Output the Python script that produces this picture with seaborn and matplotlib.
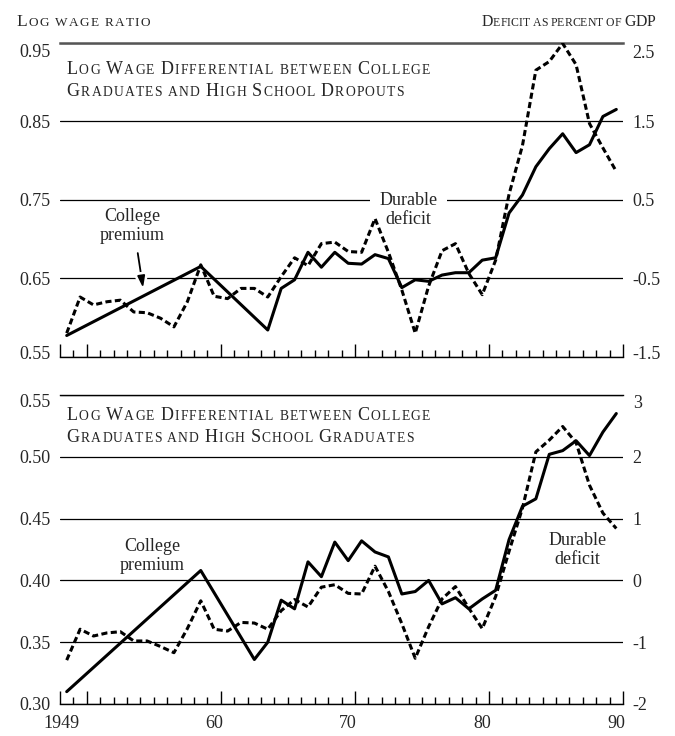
import re
import numpy as np
import pandas as pd
import matplotlib
matplotlib.use("Agg")
import matplotlib.pyplot as plt
import matplotlib.patheffects as pe
from matplotlib import transforms
import seaborn as sns

# ---------------- data ----------------
years_drop = [1949, 1959, 1964, 1965, 1966, 1967, 1968, 1969, 1970, 1971, 1972,
              1973, 1974, 1975, 1976, 1977, 1978, 1979, 1980, 1981, 1982, 1983,
              1984, 1985, 1986, 1987, 1988, 1989, 1990]
premium_drop = [0.577, 0.665, 0.584, 0.637, 0.648, 0.683, 0.664, 0.683, 0.669, 0.668,
                0.680, 0.675, 0.638, 0.648, 0.646, 0.654, 0.657, 0.657, 0.673, 0.676,
                0.733, 0.756, 0.792, 0.815, 0.834, 0.810, 0.820, 0.856, 0.865]

years_hs = [1949, 1959, 1963, 1964, 1965, 1966, 1967, 1968, 1969, 1970, 1971, 1972,
            1973, 1974, 1975, 1976, 1977, 1978, 1979, 1980, 1981, 1982, 1983,
            1984, 1985, 1986, 1987, 1988, 1989, 1990]
premium_hs = [0.310, 0.408, 0.336, 0.350, 0.384, 0.377, 0.415, 0.403, 0.431, 0.416,
              0.432, 0.423, 0.419, 0.389, 0.391, 0.400, 0.381, 0.386, 0.377, 0.385,
              0.392, 0.433, 0.460, 0.466, 0.502, 0.505, 0.513, 0.501, 0.520, 0.535]

deficit_years = list(range(1949, 1991))
deficit_top = [-1.20, -0.74, -0.84, -0.80, -0.78, -0.93, -0.94, -1.01, -1.12, -0.80,
               -0.33, -0.73, -0.76, -0.63, -0.63, -0.74, -0.48, -0.24, -0.34, -0.06,
               -0.04, -0.16, -0.17, 0.26, -0.17, -0.65, -1.20, -0.60, -0.15, -0.06,
               -0.44, -0.71, -0.27, 0.57, 1.19, 2.15, 2.26, 2.49, 2.22, 1.47,
               1.16, 0.86]
deficit_bottom = [-1.29, -0.79, -0.90, -0.85, -0.83, -0.98, -0.98, -1.07, -1.17, -0.78,
                  -0.33, -0.79, -0.82, -0.68, -0.69, -0.79, -0.49, -0.31, -0.43, -0.11,
                  -0.07, -0.21, -0.22, 0.23, -0.18, -0.70, -1.26, -0.75, -0.30, -0.10,
                  -0.45, -0.78, -0.26, 0.47, 1.17, 2.08, 2.27, 2.49, 2.23, 1.54,
                  1.09, 0.84]

top_left_ticks = [0.55, 0.65, 0.75, 0.85, 0.95]
top_left_labels = ["0.55", "0.65", "0.75", "0.85", "0.95"]
top_right_ticks = [-1.5, -0.5, 0.5, 1.5, 2.5]
top_right_labels = ["-1.5", "-0.5", "0.5", "1.5", "2.5"]
bot_left_ticks = [0.30, 0.35, 0.40, 0.45, 0.50, 0.55]
bot_left_labels = ["0.30", "0.35", "0.40", "0.45", "0.50", "0.55"]
bot_right_ticks = [-2, -1, 0, 1, 2, 3]
bot_right_labels = ["-2", "-1", "0", "1", "2", "3"]
year_label_pos = [1948.6, 1960, 1970, 1980, 1990]
year_labels = ["1949", "60", "70", "80", "90"]

# ---------------- style ----------------
sns.set_style("white")
plt.rcParams["font.family"] = ["Liberation Serif", "DejaVu Serif"]
plt.rcParams["axes.axisbelow"] = True

W, H = 675, 736
fig = plt.figure(figsize=(W / 100, H / 100), dpi=100)
fig.patch.set_facecolor("white")

def fr(x0, y0, x1, y1):
    return [x0 / W, 1 - y1 / H, (x1 - x0) / W, (y1 - y0) / H]

ax1 = fig.add_axes(fr(60, 42.7, 623, 356.7))
ax2 = fig.add_axes(fr(60, 395, 623, 704))

LW = 2.2
DASH = (0, (2.0, 1.1))
TICKFS = 13

def base_axes(ax, ylim, ticks, labels, top_color, top_lw):
    ax.set_xlim(1948.5, 1990.5)
    ax.set_ylim(*ylim)
    ax.set_yticks(ticks, labels)
    ax.tick_params(axis="y", length=0, pad=7, labelsize=TICKFS)
    ax.set_xticks([1948.5, 1950.5, 1960.5, 1970.5, 1980.5, 1990.5], [""] * 6)
    ax.set_xticks(np.arange(1949.5, 1990, 1.0), minor=True)
    ax.tick_params(axis="x", which="major", direction="in", length=9.2, width=1.0,
                   color="black", bottom=True)
    ax.tick_params(axis="x", which="minor", direction="in", length=4.8, width=1.0,
                   color="black", bottom=True)
    ax.grid(axis="y", color="black", lw=0.9)
    ax.grid(axis="x", visible=False)
    for s in ["left", "right"]:
        ax.spines[s].set_visible(False)
    ax.spines["bottom"].set_color("black")
    ax.spines["bottom"].set_linewidth(1.0)
    ax.spines["top"].set_color(top_color)
    ax.spines["top"].set_linewidth(top_lw)
    ax.set_xlabel("")
    ax.set_ylabel("")

def twin_axes(ax, ylim, ticks, labels):
    tw = ax.twinx()
    tw.set_ylim(*ylim)
    tw.set_yticks(ticks, labels)
    tw.tick_params(axis="y", length=0, pad=7, labelsize=TICKFS)
    for s in tw.spines.values():
        s.set_visible(False)
    tw.grid(False)
    return tw

def shift_labels(labels, first_dy, last_dy):
    # dy in points (positive up)
    if first_dy:
        labels[0].set_transform(labels[0].get_transform() +
                                transforms.ScaledTranslation(0, first_dy / 72, fig.dpi_scale_trans))
    if last_dy:
        labels[-1].set_transform(labels[-1].get_transform() +
                                 transforms.ScaledTranslation(0, last_dy / 72, fig.dpi_scale_trans))

# ---------------- top panel ----------------
df_drop = pd.DataFrame({"year": years_drop, "premium": premium_drop})
sns.lineplot(data=df_drop, x="year", y="premium", ax=ax1, color="black", lw=LW,
             estimator=None, sort=False)
base_axes(ax1, (0.55, 0.95), top_left_ticks, top_left_labels, "#555555", 1.8)
tw1 = twin_axes(ax1, (-1.5, 2.5), top_right_ticks, top_right_labels)
df_def_top = pd.DataFrame({"year": deficit_years, "deficit": deficit_top})
sns.lineplot(data=df_def_top, x="year", y="deficit", ax=tw1, color="black", lw=LW,
             estimator=None, sort=False)
tw1.lines[-1].set_linestyle(DASH)
tw1.set_xlabel(""); tw1.set_ylabel("")
tw1.set_ylim(-1.5, 2.5)
tw1.set_xlim(1948.5, 1990.5)

ax1.text(1953.9, 0.717, "College\npremium", ha="center", va="center",
         fontsize=13, linespacing=1.15, zorder=1)
ax1.annotate("", xy=(1954.7, 0.6375), xytext=(1954.3, 0.682),
             arrowprops=dict(arrowstyle="-|>,head_length=0.7,head_width=0.22",
                             color="black", lw=1.3, shrinkA=0, shrinkB=0,
                             path_effects=[pe.withStroke(linewidth=5, foreground="white")]),
             zorder=1.5)
ax1.text(1974.5, 0.737, "Durable\ndeficit", ha="center", va="center", fontsize=13,
         linespacing=1.15, zorder=1,
         bbox=dict(boxstyle="square,pad=0.5", fc="white", ec="none"))

# ---------------- bottom panel ----------------
df_hs = pd.DataFrame({"year": years_hs, "premium": premium_hs})
sns.lineplot(data=df_hs, x="year", y="premium", ax=ax2, color="black", lw=LW,
             estimator=None, sort=False)
base_axes(ax2, (0.30, 0.55), bot_left_ticks, bot_left_labels, "black", 1.0)
tw2 = twin_axes(ax2, (-2, 3), bot_right_ticks, bot_right_labels)
df_def_bot = pd.DataFrame({"year": deficit_years, "deficit": deficit_bottom})
sns.lineplot(data=df_def_bot, x="year", y="deficit", ax=tw2, color="black", lw=LW,
             estimator=None, sort=False)
tw2.lines[-1].set_linestyle(DASH)
tw2.set_xlabel(""); tw2.set_ylabel("")
tw2.set_ylim(-2, 3)
tw2.set_xlim(1948.5, 1990.5)

ax2.text(1955.4, 0.4197, "College\npremium", ha="center", va="center",
         fontsize=13, linespacing=1.15, zorder=1)
ax2.text(1987.1, 0.4246, "Durable\ndeficit", ha="center", va="center",
         fontsize=13, linespacing=1.15, zorder=1)

sec = ax2.secondary_xaxis("bottom")
sec.set_xticks(year_label_pos, year_labels)
sec.tick_params(length=0, pad=8, labelsize=TICKFS)
sec.spines["bottom"].set_visible(False)

# shift edge tick labels (points, + is up)
shift_labels(ax1.get_yticklabels(), 3, -5.8)
shift_labels(tw1.get_yticklabels(), 3, -6.4)
shift_labels(ax2.get_yticklabels(), 0, -4.3)
shift_labels(tw2.get_yticklabels(), 0, -4.8)

# ---------------- small-caps headings ----------------
renderer = fig.canvas.get_renderer()
_wcache = {}

def _w(s, size):
    key = (s, round(size, 3))
    if key not in _wcache:
        t = fig.text(0, 0, s, fontsize=size)
        _wcache[key] = t.get_window_extent(renderer).width
        t.remove()
    return _wcache[key]

def _adv(c, size):
    return _w("H" + c + "H", size) - _w("HH", size)

def small_caps(x0_px, x1_px, y_px, text, big, small):
    """Small caps text spanning x0..x1 (pixels) with baseline at y."""
    def layout(b, s):
        chars = []
        for c in text:
            if c == " ":
                chars.append((" ", s))
            elif c.isupper():
                chars.append((c, b))
            else:
                chars.append((c.upper(), s))
        advs = [_adv(c, sz) for c, sz in chars]
        last_ink = _w(chars[-1][0], chars[-1][1])
        natural = sum(advs[:-1]) + last_ink
        return chars, advs, natural
    target = x1_px - x0_px
    chars, advs, natural = layout(big, small)
    if natural > target:
        k = target / natural
        big, small = big * k, small * k
        chars, advs, natural = layout(big, small)
    n_gaps = len(chars) - 1
    track = max(0.0, (target - natural) / n_gaps)
    cur = x0_px
    for (c, s), a in zip(chars, advs):
        if c != " ":
            fig.text(cur / W, 1 - y_px / H, c, fontsize=s, va="baseline", ha="left")
        cur += a + track

small_caps(16.7, 150, 25.7, "Log wage ratio", 12.6, 9.5)
small_caps(481.7, 655, 25.7, "Deficit as percent of GDP", 12.0, 9.0)
TB, TS = 13.0, 9.8
small_caps(66.7, 430, 74, "Log Wage Differential between College", TB, TS)
small_caps(66.7, 404, 95.7, "Graduates and High School Dropouts", TB, TS)
small_caps(66.7, 430, 420, "Log Wage Differential between College", TB, TS)
small_caps(66.7, 413.3, 441.7, "Graduates and High School Graduates", TB, TS)

fig.savefig("out.png", dpi=100, facecolor="white")
